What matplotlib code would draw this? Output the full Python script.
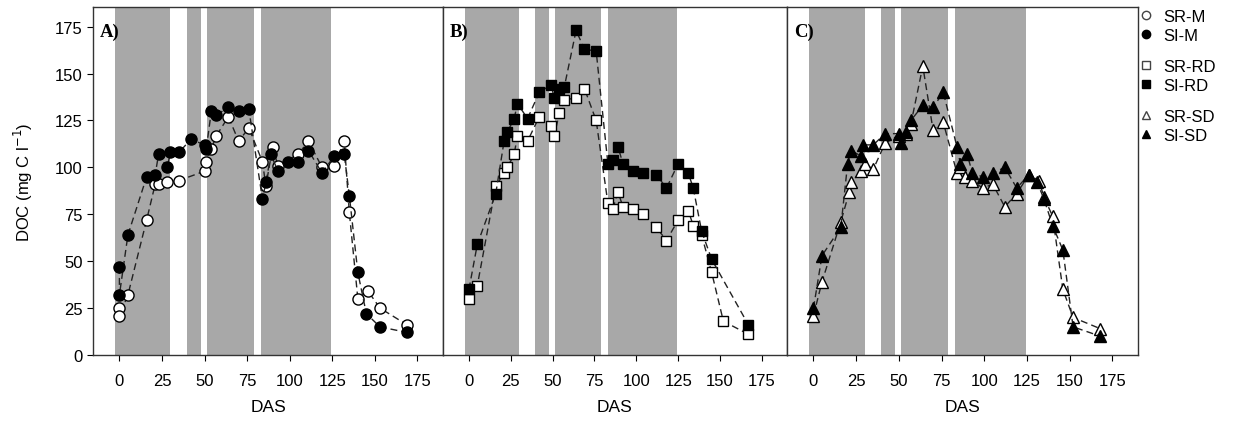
import numpy as np
import matplotlib
matplotlib.use('Agg')
import matplotlib.pyplot as plt
from matplotlib.lines import Line2D

plt.rcParams['font.family'] = ['Liberation Sans', 'DejaVu Sans']

# periodos sombreados (DAS)
periods = [(-2.5, 30), (39.5, 48), (51.5, 79), (83, 124.5)]

# A) M
sr_m_x = [0, 0, 5, 16, 21, 23, 28, 35, 50, 51, 54, 57, 64, 70, 76, 84, 86, 90, 93, 105, 111, 119, 126, 132, 135, 140, 146, 153, 169]
sr_m_y = [25, 21, 32, 72, 91, 91, 92, 93, 98, 103, 110, 117, 127, 114, 121, 103, 90, 111, 101, 107, 114, 100, 101, 114, 76, 30, 34, 25, 16]
si_m_x = [0, 0, 5, 16, 21, 23, 28, 30, 35, 42, 50, 51, 54, 57, 64, 70, 76, 84, 86, 89, 93, 99, 105, 111, 119, 126, 132, 135, 140, 145, 153, 169]
si_m_y = [47, 32, 64, 95, 96, 107, 100, 108, 108, 115, 112, 110, 130, 128, 132, 130, 131, 83, 92, 107, 98, 103, 103, 109, 97, 106, 107, 85, 44, 22, 15, 12]

# B) RD
sr_rd_x = [0, 5, 16, 21, 23, 27, 29, 35, 42, 49, 51, 54, 57, 64, 69, 76, 83, 86, 89, 92, 98, 104, 112, 118, 125, 131, 134, 139, 145, 152, 167]
sr_rd_y = [30, 37, 90, 97, 100, 107, 117, 114, 127, 122, 117, 129, 136, 137, 142, 125, 81, 78, 87, 79, 78, 75, 68, 61, 72, 77, 69, 64, 44, 18, 11]
si_rd_x = [0, 5, 16, 21, 23, 27, 29, 35, 42, 49, 51, 54, 57, 64, 69, 76, 83, 86, 89, 92, 98, 104, 112, 118, 125, 131, 134, 139, 145, 167]
si_rd_y = [35, 59, 86, 114, 119, 126, 134, 126, 140, 144, 137, 142, 143, 173, 163, 162, 102, 104, 111, 102, 98, 97, 96, 89, 102, 97, 89, 66, 51, 16]

# C) SD
sr_sd_x = [0, 5, 16, 21, 22, 28, 30, 35, 42, 50, 54, 57, 64, 70, 76, 84, 86, 89, 93, 99, 105, 112, 119, 126, 132, 135, 140, 146, 152, 168]
sr_sd_y = [21, 39, 71, 87, 92, 98, 102, 99, 113, 117, 118, 123, 154, 120, 124, 97, 100, 95, 93, 89, 91, 79, 86, 96, 93, 84, 74, 35, 20, 14]
si_sd_x = [0, 5, 16, 20, 22, 28, 29, 35, 42, 50, 51, 54, 57, 64, 70, 76, 84, 86, 90, 93, 99, 105, 112, 119, 126, 131, 135, 140, 146, 152, 168]
si_sd_y = [25, 53, 68, 102, 109, 106, 112, 112, 118, 118, 113, 119, 125, 133, 132, 140, 111, 102, 107, 97, 95, 97, 100, 89, 96, 92, 83, 69, 56, 15, 10]

panels = [
    ('A)', 'o', 'M', sr_m_x, sr_m_y, si_m_x, si_m_y),
    ('B)', 's', 'RD', sr_rd_x, sr_rd_y, si_rd_x, si_rd_y),
    ('C)', '^', 'SD', sr_sd_x, sr_sd_y, si_sd_x, si_sd_y),
]

fig = plt.figure(figsize=(12.48, 4.27), dpi=100)
lefts = [93 / 1248, 443 / 1248, 787 / 1248]
widths = [350 / 1248, 344 / 1248, 351 / 1248]
bottom, height = 1 - 356 / 427, 348 / 427

for i, (lab, mk, trt, srx, sry, six, siy) in enumerate(panels):
    ax = fig.add_axes([lefts[i], bottom, widths[i], height])
    for a, b in periods:
        ax.axvspan(a, b, color='#a8a8a8', lw=0, zorder=0)
    ms = 8 if mk != 's' else 7.5
    ax.plot(srx, sry, ls=(0, (5, 3)), color='#222222', lw=1,
            marker=mk, ms=ms, mfc='white', mec='black', mew=1, zorder=2)
    ax.plot(six, siy, ls=(0, (5, 3)), color='#222222', lw=1,
            marker=mk, ms=ms, mfc='black', mec='black', mew=1, zorder=3)
    ax.set_xlim(-15.5, 190)
    ax.set_ylim(0, 185.5)
    ax.set_xticks(np.arange(0, 176, 25))
    ax.tick_params(axis='x', direction='out', length=4, labelsize=12, pad=9)
    if i == 0:
        ax.set_yticks(np.arange(0, 176, 25))
        ax.tick_params(axis='y', direction='out', length=4, labelsize=12)
        ax.set_ylabel('DOC (mg C l$^{-1}$)', fontsize=12, labelpad=14)
    else:
        ax.set_yticks([])
    for s in ax.spines.values():
        s.set_color('#333333')
        s.set_linewidth(1)
    ax.set_xlabel('DAS', fontsize=12.5, labelpad=8)
    ax.text(0.02, 0.955, lab, transform=ax.transAxes, fontsize=13.5, fontweight='bold',
            family='Liberation Serif', va='top', ha='left', zorder=5)

    # leyenda a la derecha, un bloque por tratamiento
    h = [Line2D([], [], ls='none', marker=mk, ms=6, mfc='white', mec='#444444', mew=1),
         Line2D([], [], ls='none', marker=mk, ms=6, mfc='black', mec='black', mew=1)]
    leg = fig.legend(h, ['SR-' + trt, 'SI-' + trt], loc='upper left',
                     bbox_to_anchor=(1138 / 1248, 1 - (10 + 50 * i) / 427),
                     frameon=False, fontsize=12, handletextpad=0.5, labelspacing=0.22,
                     handlelength=1.0, borderpad=0, borderaxespad=0)

fig.savefig('out.png', dpi=100)
